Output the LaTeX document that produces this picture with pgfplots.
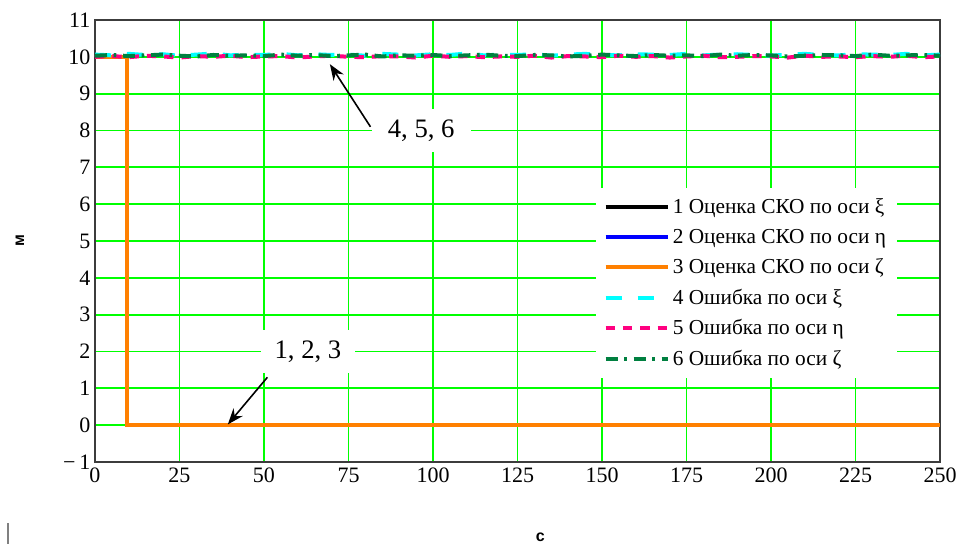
\documentclass[border=0pt]{standalone}
\usepackage{pgfplots}
\pgfplotsset{compat=1.18}
\usepackage{pgfplotstable}
\usepackage{fontspec}
\setmainfont{Liberation Serif}
\newfontfamily\labfont{Liberation Sans}
\usetikzlibrary{arrows.meta}
\definecolor{gridgreen}{RGB}{0,255,0}
\definecolor{sorange}{RGB}{255,128,0}
\definecolor{scyan}{RGB}{0,255,255}
\definecolor{smag}{RGB}{255,0,128}
\definecolor{sgreen}{RGB}{0,128,64}
\definecolor{frame}{RGB}{60,60,60}
\pgfplotstableread{
x a b c
0 10.06 10.00 10.03
5 10.04 10.02 10.05
10 10.08 9.99 10.02
15 10.05 10.03 10.04
20 10.07 10.01 10.06
25 10.03 9.98 10.03
30 10.06 10.02 10.01
35 10.09 10.00 10.05
40 10.04 10.03 10.03
45 10.06 9.99 10.04
50 10.05 10.01 10.02
55 10.08 10.02 10.06
60 10.04 9.98 10.03
65 10.07 10.01 10.05
70 10.05 10.03 10.02
75 10.06 10.00 10.04
80 10.03 9.99 10.06
85 10.08 10.02 10.01
90 10.06 10.01 10.04
95 10.04 9.98 10.03
100 10.07 10.03 10.05
105 10.05 10.00 10.02
110 10.09 10.02 10.04
115 10.04 9.99 10.06
120 10.06 10.01 10.03
125 10.05 10.00 10.02
130 10.07 10.03 10.05
135 10.03 9.98 10.04
140 10.06 10.02 10.01
145 10.08 10.01 10.03
150 10.05 9.99 10.06
155 10.04 10.03 10.04
160 10.07 10.00 10.02
165 10.06 10.02 10.05
170 10.05 9.98 10.03
175 10.08 10.01 10.04
180 10.04 10.03 10.02
185 10.06 9.99 10.06
190 10.07 10.00 10.03
195 10.05 10.02 10.05
200 10.03 10.01 10.04
205 10.06 9.98 10.01
210 10.08 10.03 10.03
215 10.05 10.00 10.05
220 10.04 10.01 10.04
225 10.07 9.99 10.02
230 10.06 10.02 10.06
235 10.05 10.00 10.03
240 10.08 10.03 10.04
245 10.04 9.99 10.05
250 10.06 10.01 10.03
}\errtab
\begin{document}
\begin{tikzpicture}
\path (0,0) rectangle (723.75pt,408pt);
\draw[gray, line width=0.8pt] (6pt,0pt) -- (6pt,16pt);
\begin{axis}[
  at={(71.25pt,61.5pt)}, anchor=south west,
  scale only axis, width=633.75pt, height=331.5pt,
  xmin=0, xmax=250, ymin=-1, ymax=11,
  xtick={0,25,...,250}, ytick={-1,0,...,11},
  yticklabels={−\,1,0,1,2,3,4,5,6,7,8,9,10,11},
  /pgf/number format/assume math mode=true,
  tick style={draw=none},
  grid=major,
  major grid style={gridgreen, line width=1.3pt},
  axis line style={frame, line width=1.6pt},
  tick label style={font=\fontsize{16.5}{18}\selectfont},
  yticklabel style={xshift=0pt},
  xticklabel style={yshift=-1pt},
  xlabel={с}, ylabel={м},
  xlabel style={font=\labfont\bfseries\fontsize{12}{13}\selectfont, at={(rel axis cs:0.527,-0.17)}, anchor=center},
  ylabel style={font=\labfont\bfseries\fontsize{12}{13}\selectfont, at={(rel axis cs:-0.089,0.5)}, anchor=center, rotate=0},
  legend cell align=left,
  legend style={at={(rel axis cs:0.592,0.62)}, anchor=north west, draw=none, fill=white,
    font=\fontsize{16}{18}\selectfont, row sep=6pt, inner xsep=6pt, inner ysep=6pt},
  legend image code/.code={\draw[#1] (0cm,0cm) -- (1.65cm,0cm);},
]
\addplot[black, line width=3pt] coordinates {(0,10) (9.5,10) (9.5,0) (250,0)};
\addlegendentry{1 Оценка СКО по оси ξ}
\addplot[blue, line width=3pt] coordinates {(0,10) (9.5,10) (9.5,0) (250,0)};
\addlegendentry{2 Оценка СКО по оси η}
\addplot[sorange, line width=3pt] coordinates {(0,10) (9.5,10) (9.5,0) (250,0)};
\addlegendentry{3 Оценка СКО по оси ζ}
\addplot[scyan, line width=3pt, dash pattern=on 12pt off 12pt] table[x=x,y=a] {\errtab};
\addlegendentry{4 Ошибка по оси ξ}
\addplot[smag, line width=3pt, dash pattern=on 7pt off 6pt] table[x=x,y=b] {\errtab};
\addlegendentry{5 Ошибка по оси η}
\addplot[sgreen, line width=3pt, dash pattern=on 9pt off 5pt on 2pt off 5pt] table[x=x,y=c] {\errtab};
\addlegendentry{6 Ошибка по оси ζ}
\node[fill=white, font=\fontsize{20}{22}\selectfont, inner xsep=12pt, inner ysep=8pt] (n456) at (axis cs:96.5,8.0) {4, 5, 6};
\draw[-{Stealth[length=12pt,width=9pt]}, line width=1.2pt] (axis cs:81.5,8.1) -- (axis cs:69.5,9.8);
\node[fill=white, font=\fontsize{20}{22}\selectfont, inner xsep=10pt, inner ysep=8pt] at (axis cs:63,2.0) {1, 2, 3};
\draw[-{Stealth[length=12pt,width=9pt]}, line width=1.2pt] (axis cs:51,1.3) -- (axis cs:39.3,0.02);
\end{axis}
\end{tikzpicture}
\end{document}
